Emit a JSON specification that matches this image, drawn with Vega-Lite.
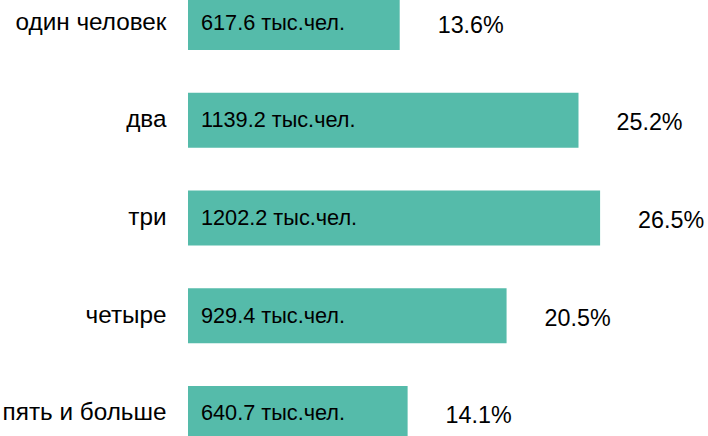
{
  "$schema": "https://vega.github.io/schema/vega-lite/v6.json",
  "autosize": {"type": "none"},
  "padding": {"left": 188, "top": 0, "right": 0, "bottom": 0},
  "width": 520,
  "height": 436,
  "background": "white",
  "config": {"view": {"stroke": null}, "font": "Liberation Sans"},
  "data": {"values": [
    {"category": "один человек", "value": 617.6, "label": "617.6 тыс.чел.", "share": 0.136},
    {"category": "два", "value": 1139.2, "label": "1139.2 тыс.чел.", "share": 0.252},
    {"category": "три", "value": 1202.2, "label": "1202.2 тыс.чел.", "share": 0.265},
    {"category": "четыре", "value": 929.4, "label": "929.4 тыс.чел.", "share": 0.205},
    {"category": "пять и больше", "value": 640.7, "label": "640.7 тыс.чел.", "share": 0.141}
  ]},
  "encoding": {
    "y": {
      "field": "category", "type": "nominal", "sort": null, "title": null,
      "scale": {"range": [-5, 441], "paddingInner": 0.4373, "paddingOuter": 0},
      "axis": {"domain": false, "ticks": false, "labelFontSize": 24.3, "labelPadding": 22, "labelColor": "#000000", "labelFont": "Liberation Sans"}
    }
  },
  "layer": [
    {
      "mark": {"type": "bar", "color": "#55bbaa"},
      "encoding": {
        "x": {"field": "value", "type": "quantitative", "scale": {"domain": [0, 1517], "nice": false, "zero": true}, "axis": null}
      }
    },
    {
      "mark": {"type": "text", "align": "left", "baseline": "middle", "dx": 13, "fontSize": 21.7, "color": "#000000"},
      "encoding": {
        "x": {"datum": 0, "type": "quantitative"},
        "text": {"field": "label"}
      }
    },
    {
      "mark": {"type": "text", "align": "left", "baseline": "middle", "dx": 38, "dy": 3, "fontSize": 23.3, "color": "#000000"},
      "encoding": {
        "x": {"field": "value", "type": "quantitative"},
        "text": {"field": "share", "format": ".1%"}
      }
    }
  ]
}
